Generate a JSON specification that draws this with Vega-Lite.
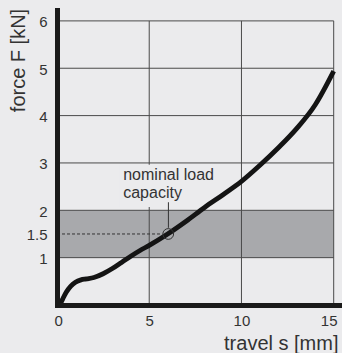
{
  "$schema": "https://vega.github.io/schema/vega-lite/v6.json",
  "width": 285,
  "height": 295,
  "autosize": {"type": "none"},
  "padding": {"left": 57, "top": 10, "right": 0, "bottom": 48},
  "background": "#ebebed",
  "config": {"view": {"stroke": null}, "font": "Liberation Sans"},
  "datasets": {
    "band": [{"s": 0, "s2": 15, "F": 1, "F2": 2}],
    "grid": [
      {"s": 0, "s2": 15, "F": 1, "F2": 1},
      {"s": 0, "s2": 15, "F": 2, "F2": 2},
      {"s": 0, "s2": 15, "F": 3, "F2": 3},
      {"s": 0, "s2": 15, "F": 4, "F2": 4},
      {"s": 0, "s2": 15, "F": 5, "F2": 5},
      {"s": 0, "s2": 15, "F": 6, "F2": 6},
      {"s": 5, "s2": 5, "F": 0, "F2": 6},
      {"s": 10, "s2": 10, "F": 0, "F2": 6},
      {"s": 15, "s2": 15, "F": 0, "F2": 6}
    ],
    "box": [{"s": 3.4, "s2": 8.6, "F": 2.07, "F2": 2.96}],
    "dash": [{"s": 0, "s2": 5.7, "F": 1.5, "F2": 1.5}],
    "leader": [{"s": 6.04, "s2": 6.04, "F": 1.63, "F2": 2.17}],
    "curve": [
      {"s": 0.15, "F": 0.0},
      {"s": 0.3, "F": 0.12},
      {"s": 0.5, "F": 0.27},
      {"s": 0.75, "F": 0.4},
      {"s": 1.0, "F": 0.48},
      {"s": 1.3, "F": 0.53},
      {"s": 1.6, "F": 0.55},
      {"s": 2.0, "F": 0.58},
      {"s": 2.5, "F": 0.66},
      {"s": 3.0, "F": 0.77},
      {"s": 3.5, "F": 0.9},
      {"s": 4.0, "F": 1.03},
      {"s": 4.5, "F": 1.15},
      {"s": 5.0, "F": 1.26},
      {"s": 6.0, "F": 1.5},
      {"s": 7.0, "F": 1.77},
      {"s": 8.0, "F": 2.06},
      {"s": 9.0, "F": 2.33},
      {"s": 10.0, "F": 2.61},
      {"s": 11.0, "F": 2.95},
      {"s": 12.0, "F": 3.32},
      {"s": 13.0, "F": 3.73},
      {"s": 14.0, "F": 4.23},
      {"s": 15.0, "F": 4.94}
    ],
    "marker": [{"s": 6.03, "F": 1.5}],
    "note": [
      {"s": 3.59, "F": 2.64, "label": "nominal load"},
      {"s": 3.59, "F": 2.27, "label": "capacity"}
    ]
  },
  "layer": [
    {
      "data": {"name": "band"},
      "mark": {"type": "rect", "fill": "#a8a9ac"},
      "encoding": {
        "x": {
          "field": "s", "type": "quantitative",
          "scale": {"domain": [0, 15.45], "nice": false, "zero": false},
          "axis": {
            "title": "travel s [mm]",
            "values": [0, 5, 10, 15],
            "grid": false, "ticks": false,
            "domainColor": "#1a1a1a", "domainWidth": 5, "domainCap": "square",
            "labelFontSize": 15, "labelColor": "#333333", "labelPadding": 8,
            "labelOffset": {"condition": [{"test": "datum.value == 15", "value": -5}, {"test": "datum.value == 0", "value": -3}], "value": 0},
            "titleFontSize": 20, "titleFontWeight": "normal", "titleColor": "#333333",
            "titleAlign": "right", "titleBaseline": "alphabetic", "titleX": 281, "titleY": 44,
            "zindex": 2
          }
        },
        "x2": {"field": "s2"},
        "y": {
          "field": "F", "type": "quantitative",
          "scale": {"domain": [0, 6.23], "nice": false, "zero": false},
          "axis": {
            "title": "force F [kN]",
            "values": [1, 1.5, 2, 3, 4, 5, 6],
            "format": ".2~f",
            "grid": false, "ticks": false,
            "domainColor": "#1a1a1a", "domainWidth": 5, "domainCap": "square",
            "labelFontSize": 15, "labelColor": "#333333", "labelPadding": 10, "labelOffset": 1,
            "titleFontSize": 20, "titleFontWeight": "normal", "titleColor": "#333333",
            "titleAngle": -90, "titleAlign": "center", "titleBaseline": "alphabetic",
            "titleX": -33, "titleY": 50,
            "zindex": 2
          }
        },
        "y2": {"field": "F2"}
      }
    },
    {
      "data": {"name": "grid"},
      "mark": {"type": "rule", "stroke": "#4a4a4a", "strokeWidth": 1},
      "encoding": {
        "x": {"field": "s", "type": "quantitative"},
        "x2": {"field": "s2"},
        "y": {"field": "F", "type": "quantitative"},
        "y2": {"field": "F2"}
      }
    },
    {
      "data": {"name": "box"},
      "mark": {"type": "rect", "fill": "#ebebed"},
      "encoding": {
        "x": {"field": "s", "type": "quantitative"},
        "x2": {"field": "s2"},
        "y": {"field": "F", "type": "quantitative"},
        "y2": {"field": "F2"}
      }
    },
    {
      "data": {"name": "dash"},
      "mark": {"type": "rule", "stroke": "#333333", "strokeWidth": 1, "strokeDash": [3, 2]},
      "encoding": {
        "x": {"field": "s", "type": "quantitative"},
        "x2": {"field": "s2"},
        "y": {"field": "F", "type": "quantitative"},
        "y2": {"field": "F2"}
      }
    },
    {
      "data": {"name": "leader"},
      "mark": {"type": "rule", "stroke": "#333333", "strokeWidth": 1},
      "encoding": {
        "x": {"field": "s", "type": "quantitative"},
        "x2": {"field": "s2"},
        "y": {"field": "F", "type": "quantitative"},
        "y2": {"field": "F2"}
      }
    },
    {
      "data": {"name": "note"},
      "mark": {"type": "text", "align": "left", "baseline": "alphabetic", "fontSize": 16, "color": "#333333"},
      "encoding": {
        "x": {"field": "s", "type": "quantitative"},
        "y": {"field": "F", "type": "quantitative"},
        "text": {"field": "label"}
      }
    },
    {
      "data": {"name": "curve"},
      "mark": {"type": "line", "interpolate": "monotone", "stroke": "#141414", "strokeWidth": 4.8, "strokeCap": "butt"},
      "encoding": {
        "x": {"field": "s", "type": "quantitative"},
        "y": {"field": "F", "type": "quantitative"}
      }
    },
    {
      "data": {"name": "marker"},
      "mark": {"type": "point", "shape": "circle", "size": 115, "filled": false, "stroke": "#333333", "strokeWidth": 1, "opacity": 1},
      "encoding": {
        "x": {"field": "s", "type": "quantitative"},
        "y": {"field": "F", "type": "quantitative"}
      }
    }
  ]
}
